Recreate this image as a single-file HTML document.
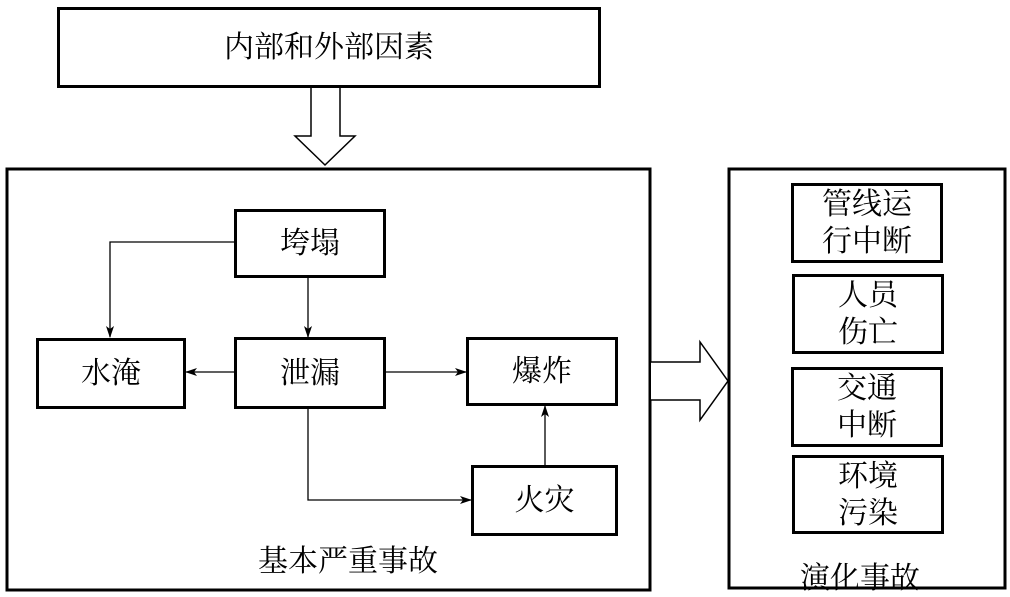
<!DOCTYPE html>
<html><head><meta charset="utf-8"><style>
html,body{margin:0;padding:0;background:#fff;}
body{width:1010px;height:597px;position:relative;overflow:hidden;font-family:"Liberation Serif","Noto Serif CJK SC","WenQuanYi Zen Hei",serif;}
.b{position:absolute;border:3px solid #000;box-sizing:border-box;display:flex;align-items:center;justify-content:center;text-align:center;font-size:30px;line-height:37px;color:#000;background:#fff;}
.t{position:absolute;font-size:30px;color:#000;white-space:nowrap;}
svg{position:absolute;left:0;top:0;}
</style></head><body>
<svg width="1010" height="597">
<defs><marker id="a" markerWidth="12" markerHeight="8" refX="11" refY="4" orient="auto" markerUnits="userSpaceOnUse"><path d="M0,0 L12,4 L0,8 L3,4 Z" fill="#000"/></marker></defs>
<rect x="7" y="169" width="643" height="421" fill="none" stroke="#000" stroke-width="3"/>
<rect x="729" y="169" width="276" height="419" fill="none" stroke="#000" stroke-width="3"/>
<path d="M311,87 L311,136 L295,136 L325,165 L355,136 L340,136 L340,87" fill="#fff" stroke="#000" stroke-width="1.5"/>
<path d="M651,362 L700,362 L700,342 L728,381 L700,420 L700,400 L651,400" fill="#fff" stroke="#000" stroke-width="1.5"/>
<g stroke="#000" stroke-width="1.3" fill="none">
<path d="M235,242 L110,242 L110,337" marker-end="url(#a)"/>
<path d="M308,277 L308,337" marker-end="url(#a)"/>
<path d="M235,372 L186,372" marker-end="url(#a)"/>
<path d="M385,372 L466,372" marker-end="url(#a)"/>
<path d="M308,408 L308,500 L471,500" marker-end="url(#a)"/>
<path d="M545,465 L545,406" marker-end="url(#a)"/>
</g>
</svg>
<div class="b" style="left:57px;top:7px;width:544px;height:81px;">内部和外部因素</div>
<div class="b" style="left:234px;top:209px;width:152px;height:69px;">垮塌</div>
<div class="b" style="left:36px;top:338px;width:150px;height:71px;">水淹</div>
<div class="b" style="left:234px;top:337px;width:152px;height:72px;">泄漏</div>
<div class="b" style="left:466px;top:337px;width:152px;height:69px;">爆炸</div>
<div class="b" style="left:471px;top:465px;width:147px;height:71px;">火灾</div>
<div class="t" style="left:258px;top:536px;">基本严重事故</div>
<div class="b" style="left:791px;top:183px;width:152px;height:80px;">管线运<br>行中断</div>
<div class="b" style="left:792px;top:274px;width:152px;height:80px;">人员<br>伤亡</div>
<div class="b" style="left:791px;top:367px;width:152px;height:80px;">交通<br>中断</div>
<div class="b" style="left:792px;top:455px;width:152px;height:79px;">环境<br>污染</div>
<div class="t" style="left:800px;top:553px;">演化事故</div>
</body></html>
